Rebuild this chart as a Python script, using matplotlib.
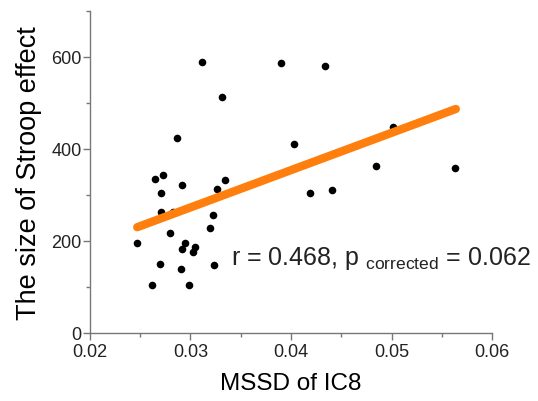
import matplotlib.pyplot as plt
from matplotlib.ticker import MultipleLocator

# values
mssd = [0.0311, 0.0390, 0.0434, 0.0331, 0.0287, 0.0403, 0.0501, 0.0485,
        0.0563, 0.0265, 0.0273, 0.0292, 0.0334, 0.0326, 0.0271, 0.0419,
        0.0441, 0.0271, 0.0283, 0.0322, 0.0319, 0.0280, 0.0247, 0.0295,
        0.0292, 0.0302, 0.0304, 0.0270, 0.0323, 0.0291, 0.0262, 0.0299]
stroop = [590, 586, 580, 514, 425, 411, 448, 362,
          359, 334, 343, 322, 332, 312, 305, 304,
          311, 262, 262, 257, 228, 217, 196, 195,
          183, 177, 188, 151, 148, 139, 104, 104]

# regression line end points
fit_x = [0.0247, 0.0564]
fit_y = [230, 487]

plt.rcParams['font.family'] = ['Liberation Sans', 'DejaVu Sans']

fig = plt.figure(figsize=(5.38, 4.02), dpi=100)
ax = fig.add_axes([90 / 538, 1 - 334 / 402, 402 / 538, 322 / 402])

ax.scatter(mssd, stroop, s=30, color='black', zorder=2, linewidths=0)
ax.plot(fit_x, fit_y, color='#ff7f0e', lw=6, solid_capstyle='round', zorder=3)

ax.text(0.0340, 149, r'r = 0.468, p $_{\mathregular{corrected}}$ = 0.062',
        fontsize=18, ha='left', va='baseline', color='#222222')

ax.set_xlim(0.02, 0.06)
ax.set_ylim(0, 700)
ax.set_xticks([0.02, 0.03, 0.04, 0.05, 0.06])
ax.set_xticklabels(['0.02', '0.03', '0.04', '0.05', '0.06'])
ax.set_yticks([0, 200, 400, 600])
ax.xaxis.set_minor_locator(MultipleLocator(0.005))
ax.yaxis.set_minor_locator(MultipleLocator(100))

for side in ['top', 'right']:
    ax.spines[side].set_visible(False)
for side in ['left', 'bottom']:
    ax.spines[side].set_color('#777777')
    ax.spines[side].set_linewidth(1.0)

ax.tick_params(which='major', length=5, width=1, color='#777777', labelsize=13,
               labelcolor='#222222')
ax.tick_params(axis='y', which='major', pad=1)
ax.tick_params(axis='x', which='major', pad=2)
ax.tick_params(which='minor', length=3, width=1, color='#777777')

ax.set_xlabel('MSSD of IC8', fontsize=17.5, labelpad=9)
ax.set_ylabel('The size of Stroop effect', fontsize=19.5, labelpad=7)

fig.savefig('out.png', dpi=100)
